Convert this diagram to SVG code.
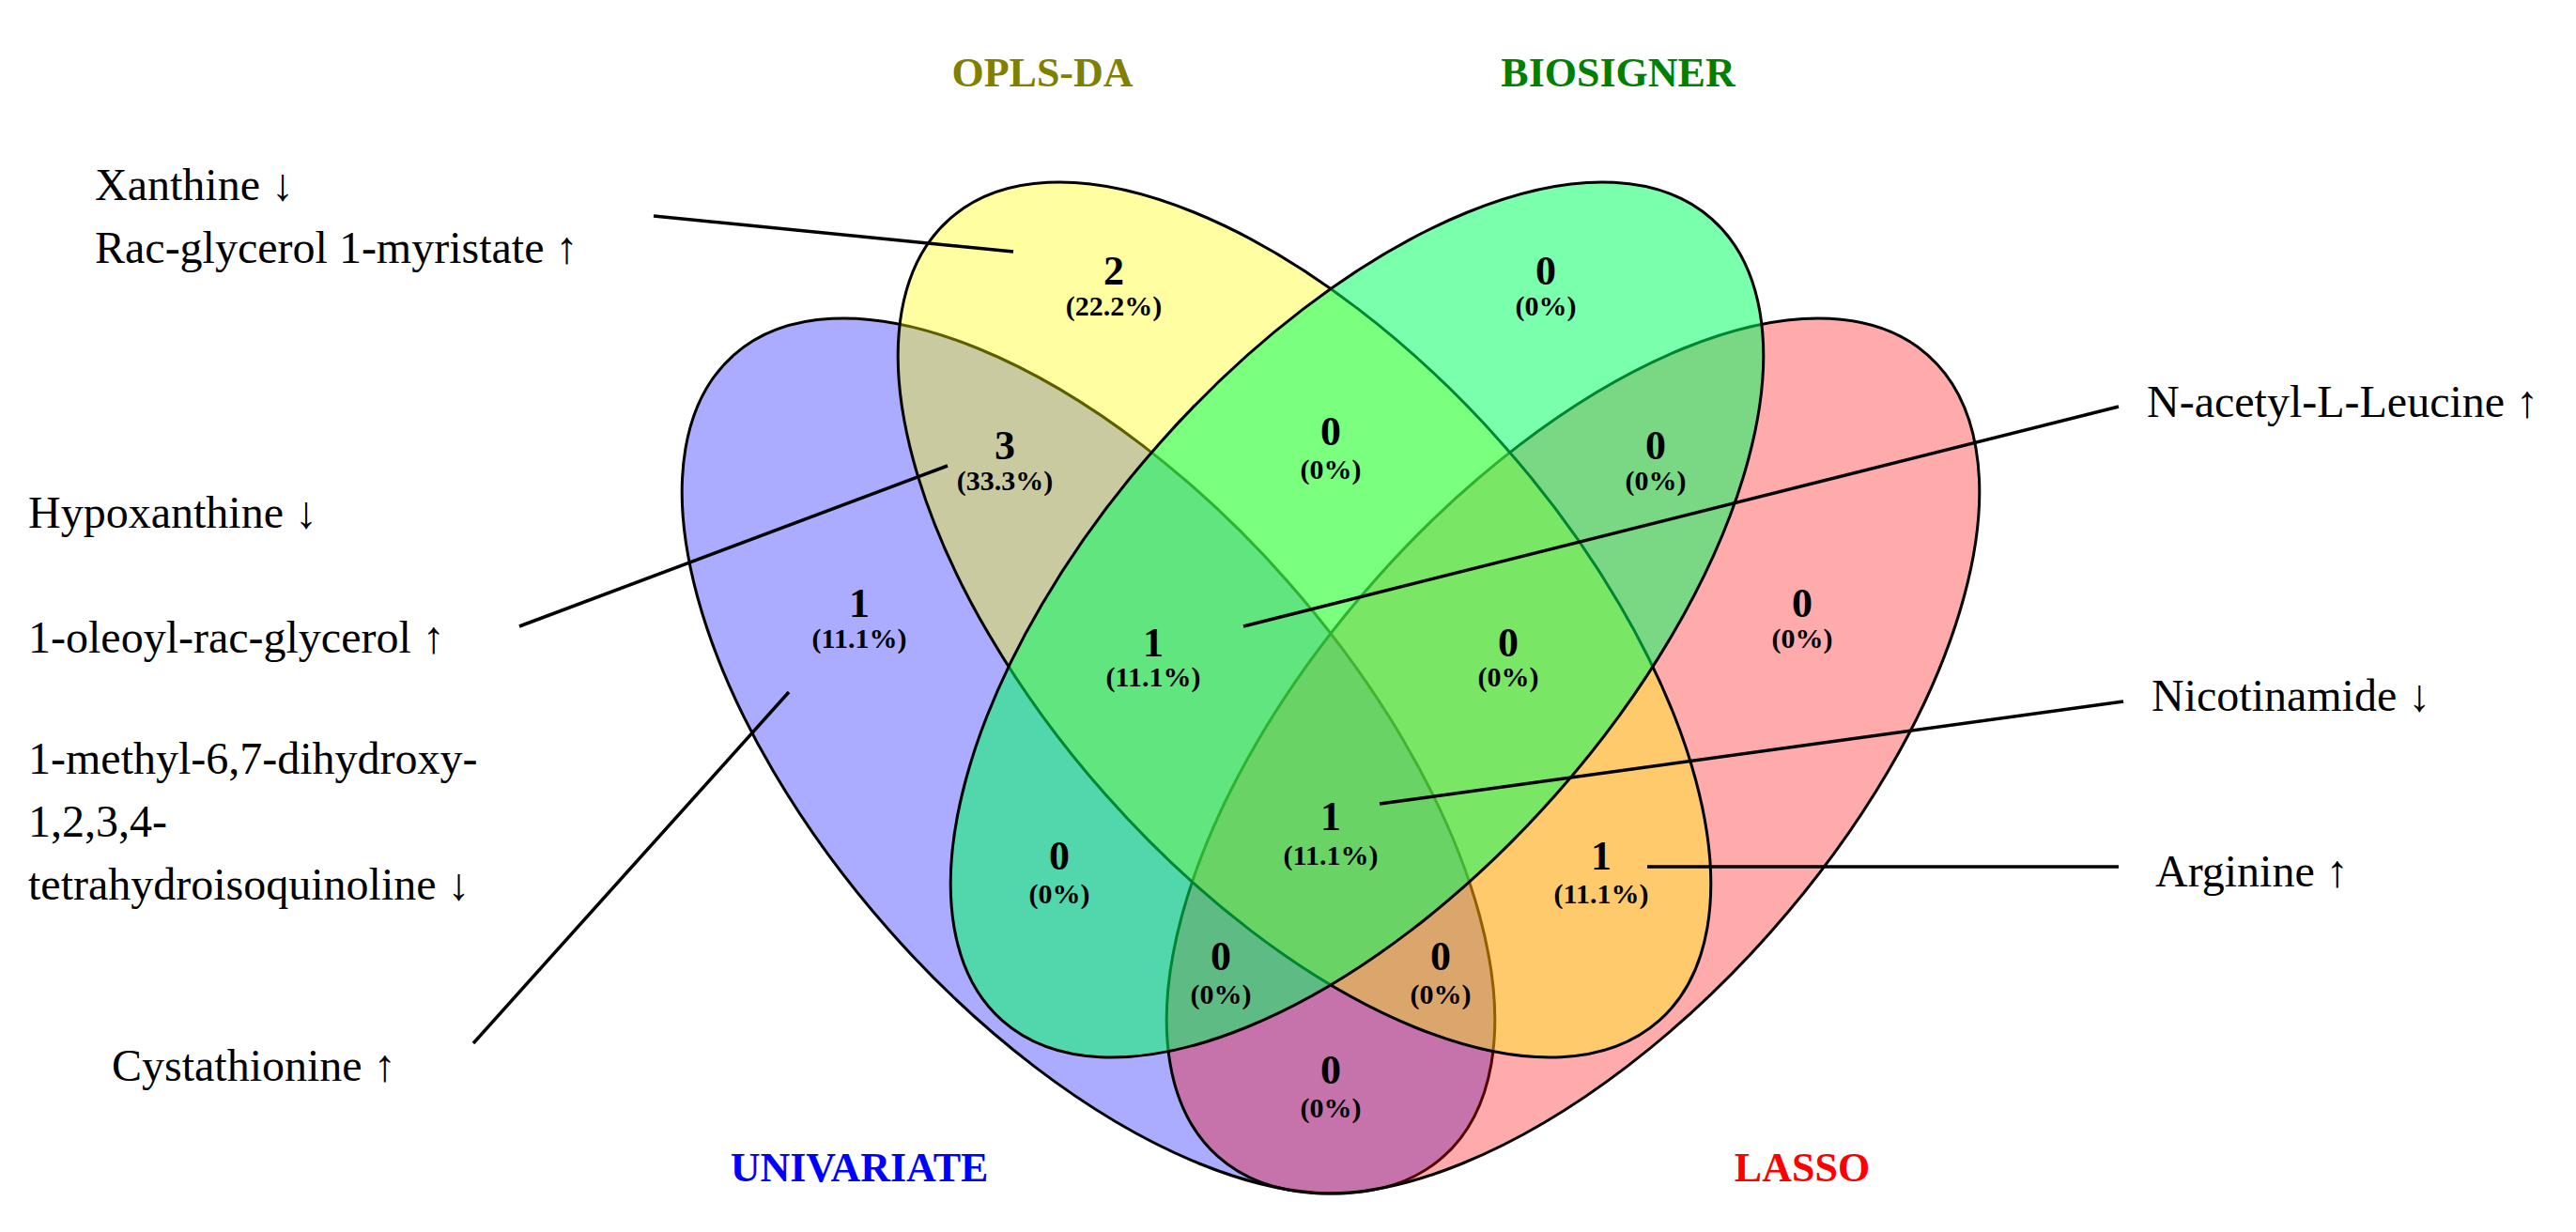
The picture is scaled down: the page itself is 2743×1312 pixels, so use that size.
<svg xmlns="http://www.w3.org/2000/svg" width="2743" height="1312" viewBox="0 0 2743 1312">
<style>
.e{stroke:#000;stroke-width:3}
.n{font-family:"Liberation Serif",serif;font-weight:bold;font-size:44px;text-anchor:middle}
.p{font-family:"Liberation Serif",serif;font-weight:bold;font-size:30px;text-anchor:middle}
.t{font-family:"Liberation Serif",serif;font-weight:bold;font-size:44px;text-anchor:middle}
.l{font-family:"Liberation Serif",serif;font-size:48px}
.c line{stroke:#000;stroke-width:3.5}
</style>
<rect width="2743" height="1312" fill="#fff"/>
<g id="ellipses">
<ellipse id="univariate" class="e" cx="1159" cy="805" rx="570" ry="282" transform="rotate(48.5 1159 805)" fill="#0000ff" fill-opacity="0.33"/>
<ellipse id="lasso" class="e" cx="1675" cy="805" rx="570" ry="282" transform="rotate(-48.5 1675 805)" fill="#ff0000" fill-opacity="0.33"/>
<ellipse id="opls" class="e" cx="1389" cy="660" rx="570" ry="282" transform="rotate(48.5 1389 660)" fill="#ffff00" fill-opacity="0.37"/>
<ellipse id="biosigner" class="e" cx="1445" cy="660" rx="570" ry="282" transform="rotate(-48.5 1445 660)" fill="#00ff60" fill-opacity="0.52"/>
</g>
<g id="titles">
<text class="t" x="1110" y="92" fill="#808000">OPLS-DA</text>
<text class="t" x="1723" y="92" fill="#008000">BIOSIGNER</text>
<text class="t" x="915" y="1258" fill="#0000ff">UNIVARIATE</text>
<text class="t" x="1919" y="1258" fill="#ff0000">LASSO</text>
</g>
<g id="counts">
<text class="n" x="1186" y="303">2</text><text class="p" x="1186" y="336">(22.2%)</text>
<text class="n" x="1646" y="303">0</text><text class="p" x="1646" y="336">(0%)</text>
<text class="n" x="1070" y="489">3</text><text class="p" x="1070" y="522">(33.3%)</text>
<text class="n" x="1417" y="474">0</text><text class="p" x="1417" y="510">(0%)</text>
<text class="n" x="1763" y="489">0</text><text class="p" x="1763" y="522">(0%)</text>
<text class="n" x="915" y="657">1</text><text class="p" x="915" y="690">(11.1%)</text>
<text class="n" x="1228" y="699">1</text><text class="p" x="1228" y="731">(11.1%)</text>
<text class="n" x="1606" y="699">0</text><text class="p" x="1606" y="731">(0%)</text>
<text class="n" x="1919" y="657">0</text><text class="p" x="1919" y="690">(0%)</text>
<text class="n" x="1417" y="884">1</text><text class="p" x="1417" y="921">(11.1%)</text>
<text class="n" x="1128" y="926">0</text><text class="p" x="1128" y="962">(0%)</text>
<text class="n" x="1705" y="926">1</text><text class="p" x="1705" y="962">(11.1%)</text>
<text class="n" x="1300" y="1033">0</text><text class="p" x="1300" y="1069">(0%)</text>
<text class="n" x="1534" y="1033">0</text><text class="p" x="1534" y="1069">(0%)</text>
<text class="n" x="1417" y="1154">0</text><text class="p" x="1417" y="1190">(0%)</text>
</g>
<g id="labels" class="l">
<text x="101" y="213">Xanthine ↓</text>
<text x="101" y="280">Rac-glycerol 1-myristate ↑</text>
<text x="30" y="562">Hypoxanthine ↓</text>
<text x="30" y="695">1-oleoyl-rac-glycerol ↑</text>
<text x="30" y="824">1-methyl-6,7-dihydroxy-</text>
<text x="30" y="891">1,2,3,4-</text>
<text x="30" y="958">tetrahydroisoquinoline ↓</text>
<text x="119" y="1151">Cystathionine ↑</text>
<text x="2286" y="444">N-acetyl-L-Leucine ↑</text>
<text x="2291" y="757">Nicotinamide ↓</text>
<text x="2295" y="944">Arginine ↑</text>
</g>
<g id="connectors" class="c">
<line x1="696" y1="230" x2="1079" y2="268"/>
<line x1="1009" y1="496" x2="553" y2="667"/>
<line x1="840" y1="737" x2="504" y2="1111"/>
<line x1="1324" y1="667" x2="2256" y2="433"/>
<line x1="1469" y1="856" x2="2261" y2="747"/>
<line x1="1754" y1="923" x2="2256" y2="923"/>
</g>
</svg>
